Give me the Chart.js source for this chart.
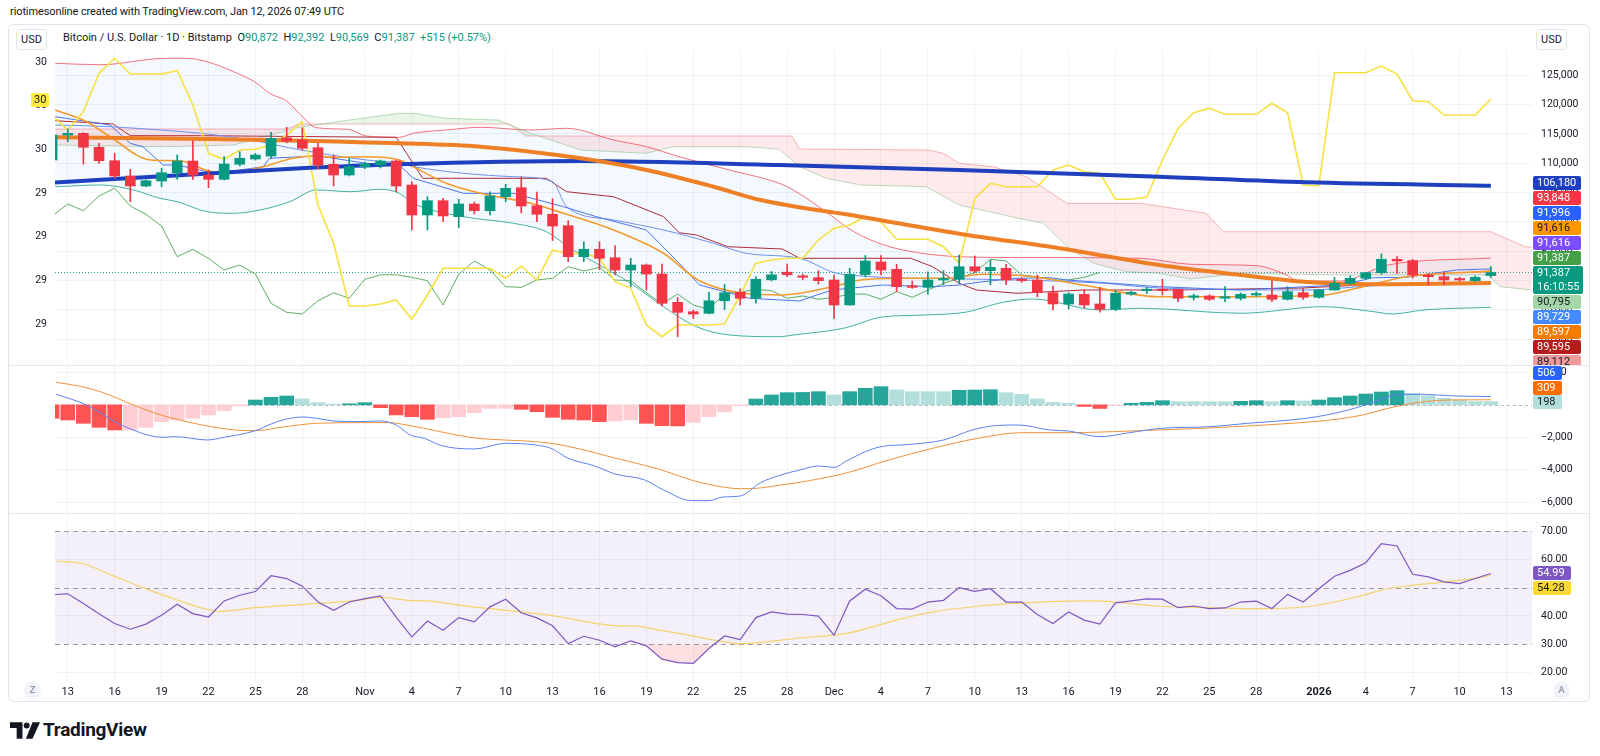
<!DOCTYPE html>
<html>
<head>
<meta charset="utf-8">
<title>BTCUSD 1D</title>
<script src="https://cdn.jsdelivr.net/npm/chart.js@4.4.1/dist/chart.umd.min.js"></script>
<style>
body { margin:0; width:1600px; height:756px; background:#fff; position:relative; overflow:hidden;
       font-family: Roboto, "Liberation Sans", sans-serif; color:#131722; }
.a { position:absolute; }
canvas { position:absolute; left:0; }
#credit { left:10px; top:5px; font-size:11px; letter-spacing:-0.1px; }
#frame { left:8px; top:24px; width:1582px; height:678px; border:1px solid #e0e3eb; border-radius:6px; box-sizing:border-box; }
.usd { top:29px; width:31px; height:21px; border:1px solid #e0e3eb; border-radius:4px; box-sizing:border-box;
       font-size:11px; line-height:19px; text-align:center; }
#legend { left:63px; top:31px; font-size:11px; white-space:pre; }
#legend .v { color:#089981; }
.sep { left:9px; width:1580px; height:1px; background:#e6e8ee; }
.tag { position:absolute; left:1533px; height:14px; line-height:14px; font-size:11px; padding:0 4px;
       border-radius:2px; white-space:pre; box-sizing:border-box; }
#ptags { left:0; top:0; width:1600px; height:365px; overflow:hidden; }
.circ { width:17px; height:17px; border-radius:9px; background:#f0f3fa; color:#787b86; font-size:9px;
        line-height:17px; text-align:center; top:682px; }
#logoText { left:43px; top:718px; font-size:19px; font-weight:bold; letter-spacing:-0.3px; }
</style>
</head>
<body>
<div id="credit" class="a">riotimesonline created with TradingView.com, Jan 12, 2026 07:49 UTC</div>
<div id="frame" class="a"></div>
<div class="a usd" style="left:16px">USD</div>
<div class="a usd" style="left:1536px">USD</div>
<div id="legend" class="a"></div>

<canvas id="price" width="1600" height="315" style="top:50px"></canvas>
<div class="a sep" style="top:365px"></div>
<canvas id="macd" width="1600" height="147" style="top:366px"></canvas>
<div class="a sep" style="top:513px"></div>
<canvas id="rsi" width="1600" height="186" style="top:514px"></canvas>

<div id="ptags" class="a"></div>
<div id="otags"></div>
<div class="a tag" style="left:31px;top:93px;background:#FFEB3B;padding:0 3px">30</div>

<div class="a circ" style="left:24px">Z</div>
<div class="a circ" style="left:1553px">A</div>
<svg class="a" style="left:10px;top:722px" width="30" height="17" viewBox="0 0 36 20">
  <path d="M0 0h15v20H8V7H0z" fill="#131722"/>
  <circle cx="20" cy="4" r="3.6" fill="#131722"/>
  <path d="M27 0h9l-9 20h-8z" fill="#131722"/>
</svg>
<div id="logoText" class="a">TradingView</div>

<script>
// ---------- time axis (day 0 = Oct 12, 2025) ----------
var xMin = 0.185, xMax = 94.63;
var dayTicks  = [1,4,7,10,13,16,20,23,26,29,32,35,38,41,44,47,50,53,56,59,62,65,68,71,74,77,81,84,87,90,93];
var dayLabels = ['13','16','19','22','25','28','Nov','4','7','10','13','16','19','22','25','28',
                 'Dec','4','7','10','13','16','19','22','25','28','2026','4','7','10','13'];

// ---------- candles ----------
var opens = [110560,114820,115110,112730,110440,107830,106130,106980,108400,110390,
             108000,107270,109830,110730,111240,114360,113970,112660,109830,108010,
             109420,109710,110390,106300,101190,103630,100900,103060,101920,104310,
             105840,102770,101310,99360,94080,95340,93910,91810,92660,91130,
             86300,84700,84430,86570,88010,86990,90140,91440,90800,90500,
             90110,85850,91040,93180,91930,89090,88860,90110,90230,92370,
             91700,92100,90230,90110,87950,86020,87660,86020,85110,87720,
             88290,88520,88520,87160,87390,87000,86990,87550,87550,86820,
             87950,87160,88400,89540,90400,91350,93640,93410,90960,90670,
             90340,89990,90872];
var highs = [115500,115850,115220,113410,111700,108980,107200,109150,111410,113850,
             108860,111130,111980,111700,115280,116140,116030,113410,111410,110850,
             110200,110560,110560,106860,104310,104030,103860,103400,105150,106410,
             107700,105090,103970,100220,96620,96620,95990,93800,92830,92830,
             87130,84990,88020,89360,88600,90690,91550,92830,91100,91700,
             90960,92100,94290,94290,92780,89940,91500,91700,94370,94200,
             93490,92780,90500,90960,89070,87950,88520,88860,88350,88200,
             88900,90230,88520,87700,87600,88970,87900,88100,89990,88970,
             88700,88500,90570,90800,91410,94540,94080,93640,91130,91520,
             90600,90800,92392];
var lows  = [110300,113680,109830,110000,107440,103450,106000,106010,107270,107270,
             105840,107150,109540,110560,110850,113470,112270,109030,106130,107840,
             109100,109200,105160,98630,98630,100050,99020,101360,101190,103460,
             101550,100050,96820,93230,93230,91870,90960,88970,88400,85680,
             80440,83520,84310,85090,85850,86140,89970,90690,90140,89410,
             83580,85850,90620,90960,88120,88700,87700,89300,89540,91380,
             89300,89300,89700,87260,85000,85170,85340,84620,84870,87500,
             87800,87550,86420,86700,86600,86420,86700,87300,86420,86700,
             86800,87000,88400,89300,90200,91100,91250,90400,89260,89260,
             89900,89800,90569];
var closes = [114820,115110,112730,110440,107830,106130,107030,108400,110390,108000,
              107270,109880,110850,111410,114260,113800,112560,109710,108010,109420,
              109880,110390,106130,101190,103630,101020,103060,101920,104430,105740,
              102720,101310,99310,94080,95340,93800,91810,92660,91130,86140,
              84600,84310,86570,87930,86990,90230,90990,91000,90570,89990,
              85850,91080,93350,91810,88970,88860,90110,90400,92370,91640,
              92260,90110,89990,87950,86020,87720,85850,85110,87840,88010,
              88520,88290,86990,87390,86820,87160,87670,87720,86820,88120,
              87160,88400,89540,90400,91350,93640,93350,90960,90670,90110,
              90110,90570,91387];

// ---------- price-pane overlays, [day, price] ----------
var sma200 = [[0,106690],[9.5,108180],[15.9,109150],[22.2,109830],[33.8,110390],[46.5,109710],
              [58,108860],[70.8,107720],[80.2,106760],[92,106180]];
var sma50 = [[0,114430],[10,114150],[22.2,113410],[27.4,112830],[33.8,110850],[38,108860],[42.3,106010],
             [45.3,103740],[51.7,100900],[58,98000],[64.4,95510],[70.8,92670],[76,90960],[80.2,89770],
             [84.5,89380],[92,89600]];
var bbUpper = [[0.2,127045],[3.1,126806],[7.3,127897],[8.6,127897],[9.9,127318],[11.6,125613],[13.1,123636],
               [13.9,121932],[15,120619],[15.8,118522],[16.9,116068],[18.9,115795],[20.1,114653],[22.2,114432],
               [23.1,115114],[25.2,115676],[27.4,116136],[30.6,115676],[32.9,115966],[35.9,113972],[38,112830],
               [40.1,111125],[43.3,108858],[46.5,106591],[47.4,105449],[49.5,101699],[51.3,98290],[53.4,95904],
               [55.5,94711],[58,94080],[62,93944],[69.6,93807],[72.8,92785],[77,92546],[78.7,91251],
               [79.8,89938],[82.4,89938],[85.4,92665],[92,93848]];
var bbLower = [[0.2,106011],[3.1,106301],[5.2,105449],[6.9,104034],[8,103455],[9.9,101750],[11.6,101478],
               [13.3,102040],[15.2,103455],[16.9,105449],[19.1,105159],[21,105568],[22.2,104887],[23.1,103182],
               [26.3,100898],[29.5,99773],[31.6,98341],[33.3,95222],[34.8,92955],[37,89546],[39.1,85557],
               [41.2,82148],[43.3,80733],[46.5,80444],[47.4,80733],[50.6,81876],[53.1,83802],[55.9,84143],
               [58.5,84654],[60.6,86188],[62.7,86870],[67,84995],[69.6,85285],[76,84433],[81.3,85558],
               [84.5,84705],[85.7,84313],[87.7,84995],[92,85455]];
var midLine = [[0.2,119085],[2.2,117091],[3.7,114534],[6.3,110562],[8.2,110443],[10.3,108568],[11.6,108568],
               [13.1,109148],[15.4,110852],[16.9,111244],[18,111023],[20.1,111125],[22.2,110562],[23.1,109420],
               [25.2,106591],[27.4,104886],[30.6,103182],[32.7,101477],[35.9,98631],[39.1,94659],[41.3,90108],
               [44.2,87841],[46.7,87551],[49.9,88966],[51.7,90108],[54.2,90398],[57.4,90398],[59.5,91080],
               [62.7,90671],[65.9,89256],[70.8,87262],[76,87262],[81.3,87551],[83.4,88694],[86.6,90671],[92,91616]];
var tenkan = [[0.2,117943],[3.7,116528],[5,113409],[5.8,112830],[7.1,109710],[8,109710],[9.9,108568],
              [10.7,108398],[12,108858],[13.5,109420],[13.9,110852],[15.9,111125],[17.1,111244],[18,110852],
              [20.1,110000],[22.2,109710],[23.1,107443],[26.3,104886],[29.5,104886],[32.7,102602],[34.8,100898],
              [38,98631],[40.1,92955],[41.4,89256],[44.6,86989],[47.8,86529],[48.9,87551],[49.9,88404],
              [53.1,89256],[56.3,88966],[58,89256],[59.5,89818],[61.7,90398],[63.8,90500],[64.9,90108],
              [70.8,88966],[76,88404],[82.4,89256],[84.5,90500],[86.6,90568],[89.8,91813],[92,91996]];
var slowBlue = [[0.2,116528],[3.7,116238],[6.9,115676],[9.5,115114],[12.7,113972],[15.9,112267],[20.1,110562],
                [22.2,110000],[23.1,109420],[29.5,107716],[32,106864],[32.9,102602],[35.9,100335],[39.1,98631],
                [42.3,96364],[44.4,94660],[47.8,93807],[50.4,91131],[58.5,90279],[67,89597],[70.8,88745],
                [80.2,88404],[84.5,89137],[92,89729]];
var kijun = [[0.2,117261],[3.9,116699],[5,114704],[9.5,114704],[22,114432],[23.7,107443],[31.6,107443],
             [32.9,105159],[35.9,104307],[39.1,100898],[40.1,98171],[41.2,97779],[43.2,95785],[46.7,95392],
             [47.8,93807],[54.9,93807],[56.3,92375],[58,89546],[59.1,88404],[61.7,87842],[66,88404],
             [72,88404],[80,88745],[85,89427],[92,89595]];
var spanA = [[0.2,113119],[7.3,112830],[11.6,113119],[15.8,116136],[19,117380],[22.2,118522],[23.1,118522],
             [25.2,117670],[28.5,117380],[30.6,115114],[33.8,112267],[38,111704],[39.7,112830],[44.4,112830],
             [46.5,112386],[47.8,109420],[49.5,107443],[51.7,106301],[55.9,106011],[58,102892],[62.3,100335],
             [63.4,99773],[64.9,95785],[66.6,92955],[68.7,91523],[70.8,91251],[72.8,90279],[76,91251],
             [82.4,90961],[91.8,90961],[92.6,88967],[94.6,88404]];
var spanB = [[0.2,115847],[15,115847],[15.8,116699],[29.2,116699],[30.3,114653],[47.3,114653],[47.8,112437],
             [56,112267],[57,111705],[58,110000],[60.2,109420],[62.3,107716],[64.9,103182],[69.6,103182],
             [73.8,101477],[74.9,98341],[92,98341],[94.2,95785],[94.6,95733]];
var chikouShift = 25;
var yellowLine = [118230,115680,118800,125340,127900,125220,125220,125220,125780,119940,
                  111700,110680,112270,112390,113120,114820,117090,102890,96360,85680,
                  85680,86020,86700,83410,87550,92100,92100,92100,92100,90400,
                  92490,90110,95220,94540,94660,93810,89820,88690,82440,80440,
                  82440,82440,82440,82610,87550,92960,93520,93810,93810,96930,
                  98920,99480,100900,100050,97050,97050,97050,95780,92960,104030,
                  106590,106010,106010,106010,108860,109710,108570,108300,103860,103860,
                  104260,110560,115970,118620,119370,118350,118350,118350,120230,118620,
                  106300,106130,125440,125440,125440,126580,125220,120670,120500,118230,
                  118230,118230,120960];

// ---------- MACD ----------
var macdHist = [-830,-933,-1138,-1384,-1549,-1549,-1384,-1036,-933,-830,
                -625,-359,-74,295,459,541,357,131,49,60,
                131,-176,-625,-730,-894,-791,-730,-482,-218,-218,
                -279,-422,-771,-894,-933,-1036,-998,-933,-1138,-1285,
                -1300,-1080,-730,-441,-53,357,603,746,760,808,
                603,808,1013,1116,910,808,808,808,890,910,
                930,746,644,357,152,90,-102,-225,-30,90,
                152,254,193,193,193,193,215,254,193,254,
                240,295,439,541,664,787,869,707,560,400,
                295,200,198];
var macdLine = [[0.26,644],[2.2,-12],[4.2,-1139],[5.3,-1590],[6.1,-1856],[7.1,-2000],[7.9,-1959],[9.9,-2164],
                [11,-2000],[13,-1590],[14,-1180],[14.9,-893],[16.1,-749],[16.9,-831],[18,-995],[19.5,-1036],
                [21,-995],[22,-1241],[22.9,-1856],[23.8,-2061],[24.9,-2512],[27,-2717],[29,-2369],[30.9,-2471],
                [31.9,-2676],[33,-3291],[34.7,-3763],[36,-4255],[37.9,-4624],[39.1,-5239],[40.9,-5895],[42,-5895],
                [42.9,-5670],[44,-5608],[45.3,-4788],[46.6,-4317],[47.8,-4009],[49,-3764],[50,-3846],[50.8,-3457],
                [52,-2883],[53,-2575],[54.9,-2432],[57,-2165],[58.7,-1591],[60.1,-1304],[61.8,-1243],[63.8,-1550],
                [65,-1611],[67,-1960],[68.9,-1714],[70.9,-1448],[74.1,-1345],[76.4,-1140],[79.2,-935],[80.9,-730],
                [83.5,-156],[85,336],[86.1,644],[87.8,644],[89.2,562],[92,506]];
var signalLine = [[0.26,1382],[1.9,1115],[3.2,767],[5.2,-12],[6.5,-484],[7.8,-853],[9.7,-1263],[11.7,-1550],
                  [13,-1590],[14.9,-1344],[16.9,-1139],[19.5,-1098],[21.5,-1098],[22.8,-1263],[24.7,-1632],
                  [26.7,-2000],[28,-2123],[29.9,-2205],[31.9,-2369],[34.2,-2820],[35.8,-3230],[37.8,-3701],
                  [39.1,-4050],[41,-4665],[43,-5075],[44,-5157],[45,-5136],[46.6,-4931],[47.8,-4767],[50.7,-4213],
                  [53.5,-3393],[56.3,-2676],[59.2,-2061],[62,-1714],[65,-1714],[67.8,-1652],[70.7,-1550],
                  [73.5,-1448],[76.4,-1304],[79.2,-1140],[82.1,-894],[83.8,-628],[85,-320],[86.4,-12],
                  [87.8,193],[89.2,295],[92,309]];

// ---------- RSI ----------
var rsi = [47.5,47.8,44.4,40.8,37.3,35.3,37.1,40.2,44.1,40.8,
           39.6,45.3,47.3,48.6,54.2,53.2,50.5,44.9,42.0,44.9,
           46.1,47.1,39.6,32.6,38.2,34.9,39.4,37.9,43.2,45.9,
           41.1,39.3,36.5,30.2,32.8,31.4,29.1,31.2,29.4,24.7,
           23.5,23.2,28.5,32.9,31.6,39.4,41.4,40.6,40.5,39.9,
           33.2,45.3,49.4,47.1,42.6,42.4,44.9,45.5,50.0,48.7,
           49.6,44.9,44.9,40.5,37.3,41.4,38.5,37.1,44.6,45.3,
           46.0,45.9,42.9,43.5,42.6,42.8,44.9,45.2,42.6,47.6,
           44.9,49.6,54.0,56.1,58.8,65.5,64.7,54.7,53.8,52.0,
           51.4,53.2,54.99];
var rsiMa = [[0.3,59.4],[1.9,58.5],[3.8,54.4],[5.8,50.0],[7.9,45.8],[9.7,42.6],[10.7,41.6],[13,42.9],[16.2,44.1],
             [19.5,45.5],[21,46.5],[22.8,45.5],[24.1,45.3],[26,43.8],[29.3,41.8],[31.9,40.2],[34.8,37.3],
             [36.2,36.5],[37.1,36.5],[39.1,34.7],[40.7,33.2],[42.4,31.4],[44,30.2],[45.6,30.8],[47.8,32.2],
             [50,33.2],[51,34.0],[54.4,39.1],[56,41.1],[59.3,43.5],[61,44.2],[64.1,45.1],[66.7,45.3],
             [70.6,43.5],[74,42.9],[77.2,42.6],[80.5,43.4],[83.7,47.1],[85.4,49.6],[87,50.8],[90.4,52.8],[92,54.28]];

// ---------- axis values and labels ----------
var priceTicks = [80000,85000,90000,95000,100000,105000,110000,115000,120000,125000];
var leftTicks = [0,1,2,3,4,5,6];
var leftLabels = ['29','29','29','29','30','30','30'];
var macdGrid = [2000,-2000,-4000,-6000];
var macdTicks = [2000,0,-2000,-4000,-6000];
var rsiGrid = [20,40,60];
var rsiTicks = [20,30,40,50,60,70];
var rsiLevels = [70,50,30];

// ---------- legend and last-value tags ----------
var legendTitle = 'Bitcoin / U.S. Dollar · 1D · Bitstamp';
var legendKeys = ['O','H','L','C'];
var legendVals = ['90,872','92,392','90,569','91,387'];
var legendChange = '+515 (+0.57%)';
var priceTagText = ['106,180','93,848','91,996','91,616','91,616','91,387','91,387\n16:10:55','90,795','89,729','89,597','89,595','89,112'];
var macdTagText = ['506','309','198'];
var rsiTagText = ['54.99','54.28'];

// ---------- styles ----------
var UP = '#089981', DOWN = '#F23645';
var gridColor = 'rgba(42,46,57,0.06)';
var priceTagBg = ['#1E3FBF','#F23645','#2962FF','#FF9800','#7C4DFF','#43A047','#089981','#A5D6A7','#448AFF','#F57C00','#B71C1C','#EF9A9A'];
var priceTagFg = ['#fff','#fff','#fff','#131722','#fff','#fff','#fff','#131722','#fff','#fff','#fff','#131722'];
var macdTagBg = ['#2962FF','#FF6D00','#B2DFDB'];
var macdTagFg = ['#fff','#fff','#131722'];
var rsiTagBg = ['#7E57C2','#FDD835'];
var rsiTagFg = ['#fff','#131722'];

Chart.defaults.font.family = 'Roboto, "Liberation Sans", sans-serif';

// legend line
var lg = document.getElementById('legend');
var html = legendTitle + '  ';
for (var k = 0; k < legendKeys.length; k++) {
  html += legendKeys[k] + '<span class="v">' + legendVals[k] + '</span>  ';
}
html += '<span class="v">' + legendChange + '</span>';
lg.innerHTML = html;

function addTags(parent, texts, bgs, fgs, top, step, minW) {
  var y = top;
  for (var i = 0; i < texts.length; i++) {
    var d = document.createElement('div');
    d.className = 'tag';
    var two = texts[i].indexOf('\n') >= 0;
    d.style.top = y + 'px';
    d.style.minWidth = minW + 'px';
    d.style.background = bgs[i];
    d.style.color = fgs[i];
    if (two) { d.style.height = '28px'; }
    d.textContent = texts[i];
    parent.appendChild(d);
    y += (two ? 29 : step);
  }
}
addTags(document.getElementById('ptags'), priceTagText, priceTagBg, priceTagFg, 176, 15, 48);
addTags(document.getElementById('otags'), macdTagText, macdTagBg, macdTagFg, 366, 14.5, 29);
addTags(document.getElementById('otags'), rsiTagText, rsiTagBg, rsiTagFg, 566, 14.7, 38);

// pane decorations: bands, dashed levels, last price line, axis labels
var paneDecor = {
  id: 'paneDecor',
  beforeDatasetsDraw: function (chart, args, o) {
    var ctx = chart.ctx, a = chart.chartArea, ys = chart.scales.y;
    ctx.save();
    if (o.band) {
      var t = ys.getPixelForValue(o.band[1]), b = ys.getPixelForValue(o.band[0]);
      ctx.fillStyle = o.bandColor;
      ctx.fillRect(a.left, t, a.right - a.left, b - t);
    }
    (o.dashed || []).forEach(function (v) {
      var y = Math.round(ys.getPixelForValue(v)) + 0.5;
      ctx.strokeStyle = o.dashColor;
      ctx.lineWidth = 1;
      ctx.setLineDash(o.dash);
      ctx.beginPath(); ctx.moveTo(a.left, y); ctx.lineTo(a.right, y); ctx.stroke();
    });
    ctx.restore();
  },
  afterDraw: function (chart, args, o) {
    var ctx = chart.ctx;
    ctx.save();
    ctx.font = '10.5px Roboto, "Liberation Sans", sans-serif';
    ctx.fillStyle = '#131722';
    ctx.textBaseline = 'middle';
    (o.axes || []).forEach(function (ax) {
      var s = chart.scales[ax.scale];
      ctx.textAlign = ax.align;
      ax.values.forEach(function (v, i) {
        ctx.fillText(ax.labels[i], ax.x, s.getPixelForValue(v));
      });
    });
    ctx.restore();
  }
};

function xAxis(h, labels) {
  return {
    type: 'linear', min: xMin, max: xMax, offset: false,
    afterBuildTicks: function (s) { s.ticks = dayTicks.map(function (v) { return { value: v }; }); },
    afterFit: function (s) { s.height = h; },
    grid: { color: gridColor, drawTicks: false, offset: false },
    border: { display: false },
    ticks: {
      display: labels, autoSkip: false, maxRotation: 0, padding: 5, color: '#131722',
      font: function (c) { return { size: 11, weight: dayLabels[c.index] === '2026' ? 'bold' : 'normal' }; },
      callback: function (v, i) { return dayLabels[i]; }
    }
  };
}
function yAxis(min, max, grid) {
  return {
    type: 'linear', position: 'right', min: min, max: max,
    afterBuildTicks: function (s) { s.ticks = grid.map(function (v) { return { value: v }; }); },
    afterFit: function (s) { s.width = 68; },
    grid: { color: gridColor, drawTicks: false },
    border: { display: false },
    ticks: { display: false }
  };
}
function line(data, color, width, order, extra) {
  var ds = { type: 'line', data: data, borderColor: color, borderWidth: width, pointRadius: 0,
             fill: false, order: order, tension: 0, yAxisID: 'y' };
  for (var key in extra) ds[key] = extra[key];
  return ds;
}
function fmt(v) { return (v < 0 ? '\u2212' : '') + Math.abs(v).toLocaleString('en-US'); }
var smooth = { cubicInterpolationMode: 'monotone' };
var base = { responsive: false, animation: false, devicePixelRatio: 1, events: [] };

// ---------- price pane ----------
var idx = closes.map(function (c, i) { return i; });
var candleColor = idx.map(function (i) { return closes[i] >= opens[i] ? UP : DOWN; });
var chikou = closes.slice(chikouShift).map(function (c, i) { return [i, c]; });
var yellowPts = yellowLine.map(function (v, i) { return [i, v]; });

new Chart(document.getElementById('price'), {
  type: 'bar',
  data: { datasets: [
    line(bbUpper, 'rgba(242,54,69,0.7)', 1, 8, { cubicInterpolationMode: 'monotone',
         fill: { target: 1, above: 'rgba(33,150,243,0.055)', below: 'rgba(33,150,243,0.055)' } }),
    line(bbLower, 'rgba(8,153,129,0.75)', 1, 8, smooth),
    line(spanA, 'rgba(67,160,71,0.35)', 1, 7, {
         fill: { target: 3, above: 'rgba(76,175,80,0.13)', below: 'rgba(242,54,69,0.11)' } }),
    line(spanB, 'rgba(242,54,69,0.35)', 1, 7),
    line(midLine, '#F59A2C', 1.6, 5, smooth),
    line(tenkan, '#4C74EA', 1, 5),
    line(slowBlue, '#6E8FEF', 1, 5, smooth),
    line(kijun, '#B02A35', 1, 5),
    line(chikou, 'rgba(67,160,71,0.85)', 1, 5),
    line(yellowPts, '#F6E13F', 1.6, 4),
    line(sma50, '#EE7F25', 4, 3, smooth),
    line(sma200, '#1E40BF', 4, 3, smooth),
    { type: 'bar', data: idx.map(function (i) { return { x: i, y: [lows[i], highs[i]] }; }),
      backgroundColor: candleColor, barThickness: 1, grouped: false, minBarLength: 1, order: 1, yAxisID: 'y' },
    { type: 'bar', data: idx.map(function (i) { return { x: i, y: [opens[i], closes[i]] }; }),
      backgroundColor: candleColor, barThickness: 10, grouped: false, minBarLength: 1.5, order: 0, yAxisID: 'y' }
  ] },
  options: Object.assign({}, base, {
    layout: { padding: 0 },
    scales: {
      x: xAxis(0, false),
      y: yAxis(75620, 129312, priceTicks),
      yl: { type: 'linear', position: 'left', min: -0.938, max: 6.275,
            afterFit: function (s) { s.width = 55; },
            grid: { display: false }, border: { display: false }, ticks: { display: false } }
    },
    plugins: {
      legend: { display: false }, tooltip: { enabled: false },
      paneDecor: {
        dashed: [closes[closes.length - 1]], dashColor: 'rgba(8,153,129,0.9)', dash: [1, 2],
        axes: [
          { scale: 'y', x: 1541, align: 'left', values: priceTicks, labels: priceTicks.map(fmt) },
          { scale: 'yl', x: 47, align: 'right', values: leftTicks, labels: leftLabels }
        ]
      }
    }
  }),
  plugins: [paneDecor]
});

// ---------- MACD pane ----------
var histColor = macdHist.map(function (h, i) {
  var prev = i ? macdHist[i - 1] : h;
  if (h >= 0) return h > prev ? '#26A69A' : '#B2DFDB';
  return (h < prev || i === 0) ? '#FF5252' : '#FFCDD2';
});
new Chart(document.getElementById('macd'), {
  type: 'bar',
  data: { datasets: [
    { type: 'bar', data: macdHist.map(function (h, i) { return { x: i, y: h }; }),
      backgroundColor: histColor, barThickness: 14, grouped: false, order: 2, yAxisID: 'y' },
    line(signalLine, '#F0913C', 1, 1, smooth),
    line(macdLine, '#5C82F0', 1, 0, smooth)
  ] },
  options: Object.assign({}, base, {
    layout: { padding: { left: 55 } },
    scales: { x: xAxis(0, false), y: yAxis(-6654, 2386, macdGrid) },
    plugins: {
      legend: { display: false }, tooltip: { enabled: false },
      paneDecor: {
        dashed: [0], dashColor: 'rgba(120,123,134,0.55)', dash: [3, 3],
        axes: [{ scale: 'y', x: 1541, align: 'left', values: macdTicks, labels: macdTicks.map(fmt) }]
      }
    }
  }),
  plugins: [paneDecor]
});

// ---------- RSI pane ----------
new Chart(document.getElementById('rsi'), {
  type: 'line',
  data: { datasets: [
    line(rsiMa, '#F5D36A', 1.2, 1, smooth),
    line(rsi.map(function (v, i) { return [i, v]; }), '#7E57C2', 1.2, 0, {
      fill: { target: { value: 30 }, above: 'rgba(0,0,0,0)', below: 'rgba(242,54,69,0.16)' } })
  ] },
  options: Object.assign({}, base, {
    layout: { padding: { left: 55 } },
    scales: { x: xAxis(19, true), y: yAxis(17.0, 76.0, rsiGrid) },
    plugins: {
      legend: { display: false }, tooltip: { enabled: false },
      paneDecor: {
        band: [30, 70], bandColor: 'rgba(126,87,194,0.09)',
        dashed: rsiLevels, dashColor: 'rgba(120,123,134,0.75)', dash: [5, 4],
        axes: [{ scale: 'y', x: 1541, align: 'left', values: rsiTicks,
                 labels: rsiTicks.map(function (v) { return v.toFixed(2); }) }]
      }
    }
  }),
  plugins: [paneDecor]
});
</script>
</body>
</html>
